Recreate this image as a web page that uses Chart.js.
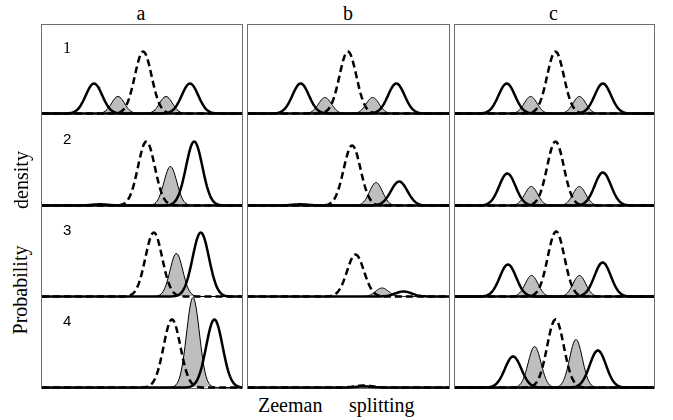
<!DOCTYPE html>
<html>
<head>
<meta charset="utf-8">
<script src="https://cdn.jsdelivr.net/npm/chart.js@4.4.1/dist/chart.umd.min.js"></script>
<style>
  body { margin: 0; background: #fff; width: 673px; height: 420px; position: relative; overflow: hidden; }
  .box { position: absolute; border: 1px solid #6e6e6e; box-sizing: border-box; }
  .panel { position: absolute; }
  .txt { position: absolute; font-family: "Liberation Serif", serif; font-size: 20px; color: #000; white-space: nowrap; line-height: 1; }
  .num { position: absolute; font-family: "Liberation Sans", sans-serif; font-size: 15px; color: #000; line-height: 1; }
</style>
</head>
<body>
<script>
// Columns / rows of the grid
const columns = ['a', 'b', 'c'];
const rowLabels = ['1', '2', '3', '4'];

// Peaks per row, per column: [centre (% of panel width), height (px of panel)]
const solidPeaks = [
  [[[26, 30], [74, 30]], [[26.2, 30], [73.8, 30]], [[26, 30], [74.3, 30]]],
  [[[29, 1.2], [76.1, 64]], [[26, 1.2], [75.2, 24]], [[26.3, 32], [74.3, 33]]],
  [[[79.4, 64]], [[77.4, 5]], [[26.6, 32], [74.2, 34]]],
  [[[86.2, 68]], [[57.6, 1]], [[29.2, 31], [71.8, 37]]]
];
const grayPeaks = [
  [[[38, 17], [62, 17]], [[38.3, 16], [62, 16]], [[38, 17], [62.5, 17]]],
  [[[64.2, 39]], [[63.7, 23]], [[38.3, 19], [62.5, 19]]],
  [[[67.2, 43]], [[66.7, 8.5]], [[38.5, 21], [62.5, 21]]],
  [[[75.5, 90]], [[57.6, 1.5]], [[40, 41], [60.8, 48]]]
];
const dashedPeaks = [
  [[50.6, 62], [49.7, 62], [50.5, 62]],
  [[52.2, 64], [51.8, 60], [50.5, 64]],
  [[55.9, 64], [53.5, 42], [50.8, 65]],
  [[65, 68], [57.6, 2], [50.5, 68]]
];
// peak widths (sigma, % of panel width)
const solidSigma = 4.1;
const graySigma = 3.2;
const dashedSigma = 4.2;

// layout
const colLeft = [41, 247, 454];
const colRight = [242, 449, 654];
const boxTop = 24;
const rowBase = [113.5, 205.5, 296.5, 387.5];
const rowTop = [24, 114, 205, 296];

function curve(c, h, s) {
  const pts = [];
  for (let i = 0; i <= 200; i++) {
    const x = i / 2;
    pts.push({ x: x, y: h * Math.exp(-0.5 * ((x - c) / s) ** 2) });
  }
  return pts;
}

function addText(cls, text, css) {
  const el = document.createElement('div');
  el.className = cls;
  el.textContent = text;
  Object.assign(el.style, css);
  document.body.appendChild(el);
  return el;
}

// column boxes
columns.forEach((c, ci) => {
  const b = document.createElement('div');
  b.className = 'box';
  b.style.left = colLeft[ci] + 'px';
  b.style.top = boxTop + 'px';
  b.style.width = (colRight[ci] - colLeft[ci] + 1) + 'px';
  b.style.height = (rowBase[3] - boxTop + 1) + 'px';
  document.body.appendChild(b);
});

// panels
rowLabels.forEach((r, ri) => {
  columns.forEach((c, ci) => {
    const h = Math.ceil(rowBase[ri] - rowTop[ri]) + 4;
    const pad = h - (rowBase[ri] - rowTop[ri]);
    const cv = document.createElement('canvas');
    cv.className = 'panel';
    const w = colRight[ci] - colLeft[ci] - 1;
    cv.width = w; cv.height = h;
    cv.style.left = (colLeft[ci] + 1) + 'px';
    cv.style.top = rowTop[ri] + 'px';
    cv.style.width = w + 'px'; cv.style.height = h + 'px';
    document.body.appendChild(cv);

    const datasets = [];
    grayPeaks[ri][ci].forEach(p => datasets.push({
      data: curve(p[0], p[1], graySigma), borderColor: '#000', borderWidth: 1,
      backgroundColor: '#bebebe', fill: 'origin', order: 3, clip: false
    }));
    solidPeaks[ri][ci].forEach(p => datasets.push({
      data: curve(p[0], p[1], solidSigma), borderColor: '#000', borderWidth: 2.5,
      fill: false, order: 2, clip: false
    }));
    const d = dashedPeaks[ri][ci];
    datasets.push({
      data: curve(d[0], d[1], dashedSigma), borderColor: '#000', borderWidth: 2.5,
      borderDash: [7, 4], fill: false, order: 1, clip: false
    });

    new Chart(cv, {
      type: 'line',
      data: { datasets: datasets },
      options: {
        animation: false,
        responsive: false,
        devicePixelRatio: 1,
        events: [],
        layout: { padding: { top: 0, bottom: pad, left: 0, right: 0 } },
        plugins: { legend: { display: false }, tooltip: { enabled: false } },
        elements: { point: { radius: 0 }, line: { tension: 0 } },
        scales: {
          x: { type: 'linear', min: 0, max: 100, display: false },
          y: { min: 0, max: rowBase[ri] - rowTop[ri], display: false }
        }
      }
    });
  });
});

// column letters
columns.forEach((c, ci) => {
  const el = addText('txt', c, { top: '3px' });
  el.style.left = ((colLeft[ci] + colRight[ci]) / 2 - 5) + 'px';
});

// row numbers
const numTop = [40, 131, 222, 313];
rowLabels.forEach((r, ri) => {
  addText('num', r, { left: '63px', top: numTop[ri] + 'px',
    fontFamily: ri === 0 ? '"Liberation Serif", serif' : '"Liberation Sans", sans-serif',
    fontSize: ri === 0 ? '16px' : '15px' });
});

// axis titles
addText('txt', 'Probability', { left: '-24px', top: '280px', transform: 'rotate(-90deg)', transformOrigin: '50% 50%' });
addText('txt', 'density', { left: '-8px', top: '170px', transform: 'rotate(-90deg)', transformOrigin: '50% 50%' });
addText('txt', 'Zeeman', { left: '258px', top: '395px' });
addText('txt', 'splitting', { left: '349px', top: '395px' });
</script>
</body>
</html>
